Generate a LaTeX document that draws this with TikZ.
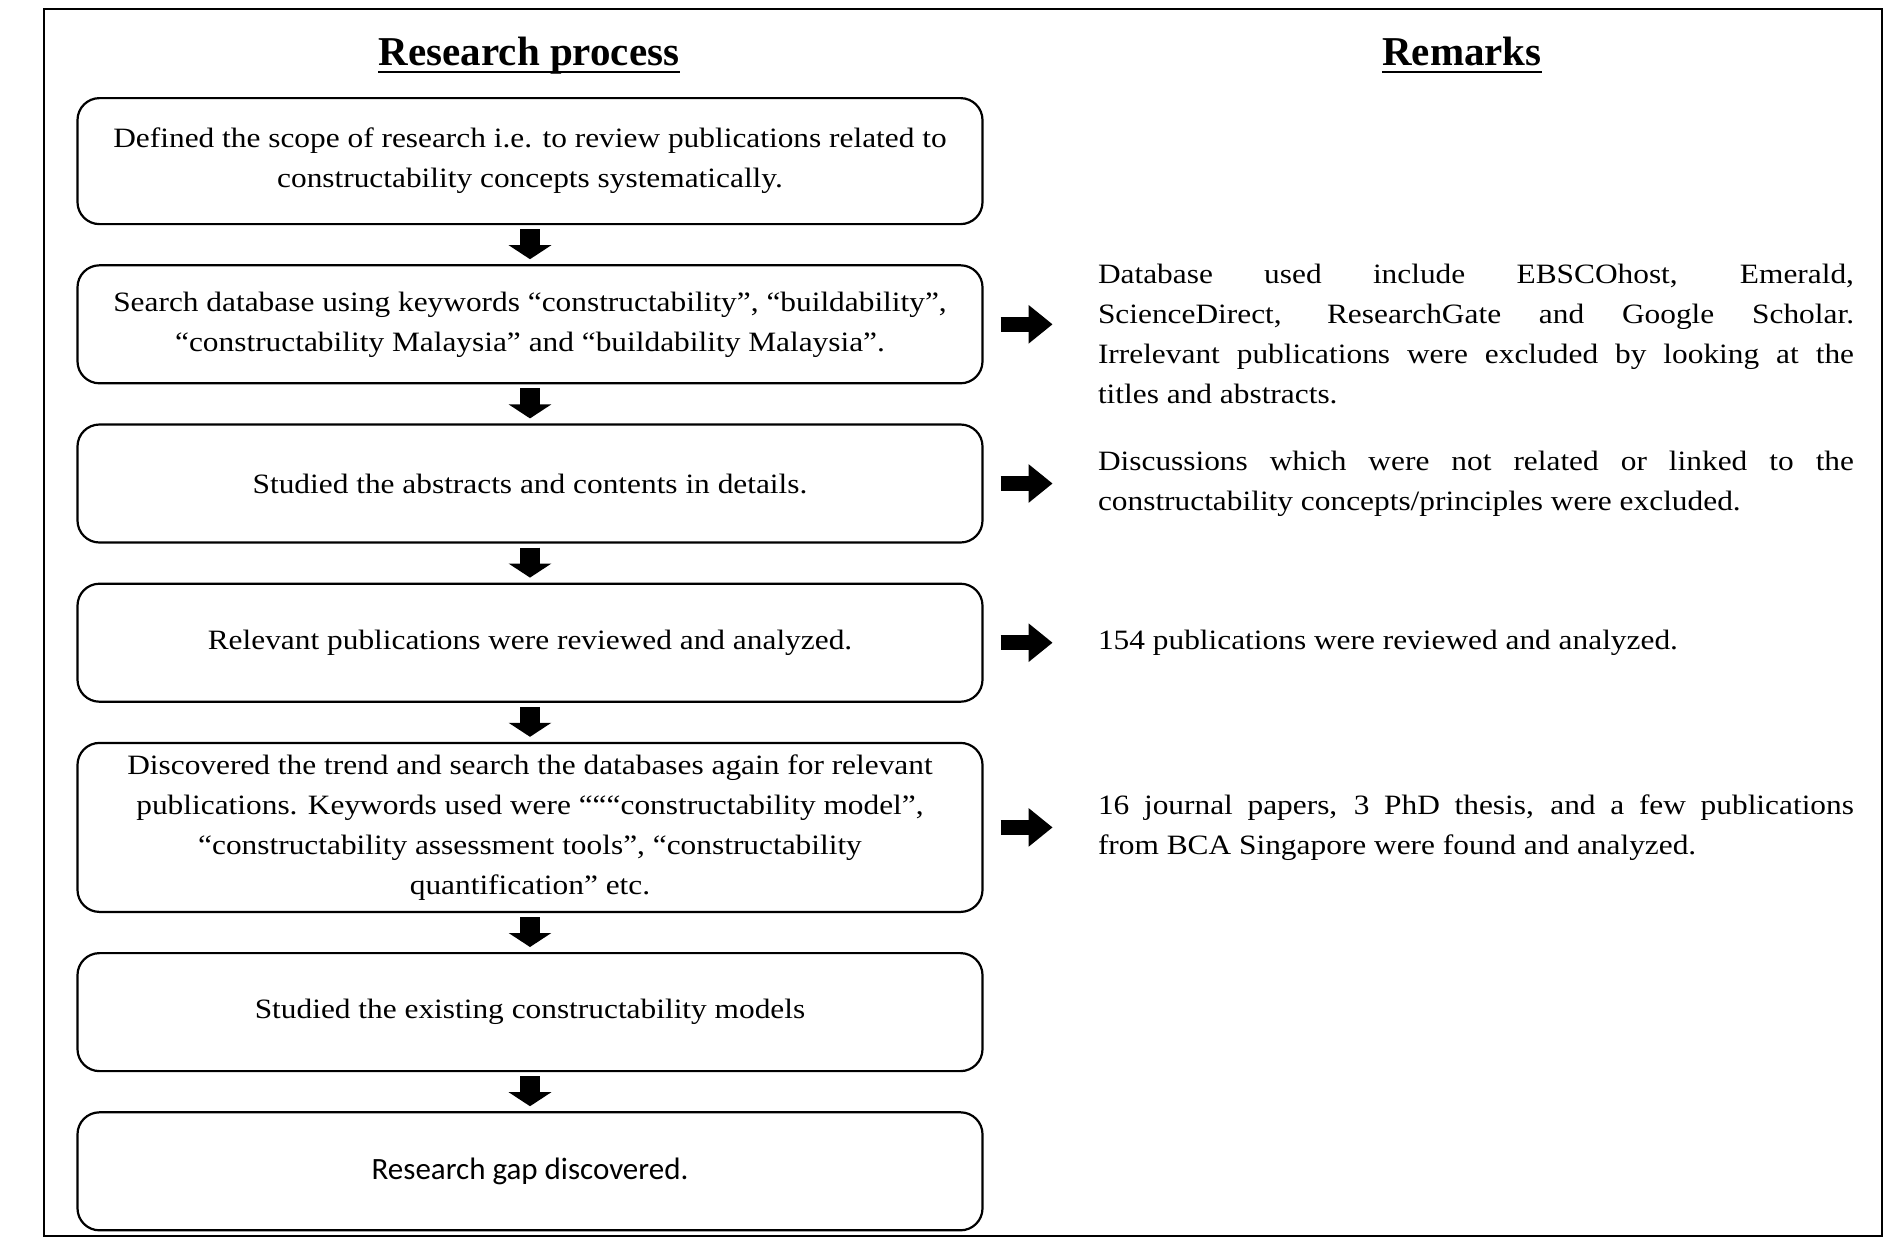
\documentclass[tikz,border=0pt]{standalone}
\usepackage{fontspec}
\setmainfont{Liberation Serif}
\newfontfamily\bodyfont{Liberation Serif}[FakeStretch=1.12]
\newfontfamily\gapfont{Carlito}
\usetikzlibrary{positioning,arrows.meta}

\begin{document}
\begin{tikzpicture}[node distance=19.5pt,
    main node/.style={draw,line width=1.1pt,rounded corners=11pt,minimum width=452.5pt,
      minimum height=59pt,align=center,inner sep=0pt,font=\bodyfont\fontsize{14}{20}\selectfont},
    remark node/.style={text width=378pt,align=justify,inner sep=0pt,font=\bodyfont\fontsize{14}{20}\selectfont},
    title node/.style={anchor=base,inner sep=0pt,font=\fontsize{20.5}{24}\selectfont\bfseries},
    down arrow/.style={line width=10pt,-{Triangle[width=21pt,length=7pt]},shorten <=2pt,shorten >=2.5pt},
    side arrow/.style={line width=7.5pt,-{Triangle[width=18.5pt,length=12pt]},shorten <=8.5pt,shorten >=22.5pt}]

  \useasboundingbox (0,0) rectangle (944pt,-619pt);
  \draw[line width=1pt] (22pt,-4.5pt) rectangle (941pt,-618pt);

  % headings
  \node[title node] (t1) at (264.5pt,-32.5pt) {Research process};
  \node[title node] (t2) at (731pt,-32.5pt) {Remarks};
  \draw[line width=1.2pt] ([yshift=-3.5pt]t1.base west) -- ([yshift=-3.5pt]t1.base east);
  \draw[line width=1.2pt] ([yshift=-3.5pt]t2.base west) -- ([yshift=-3.5pt]t2.base east);

  % research process
  \node[main node,minimum height=63pt,anchor=north] (1) at (265pt,-48.5pt)
    {Defined the scope of research i.e. to review publications related to\\
     constructability concepts systematically.};
  \node[main node] (2) [below=of 1]
    {Search database using keywords “constructability”, “buildability”,\\
     “constructability Malaysia” and “buildability Malaysia”.};
  \node[main node] (3) [below=of 2] {Studied the abstracts and contents in details.};
  \node[main node] (4) [below=of 3] {Relevant publications were reviewed and analyzed.};
  \node[main node,minimum height=84.5pt] (5) [below=of 4]
    {Discovered the trend and search the databases again for relevant\\
     publications. Keywords used were “““constructability model”,\\
     “constructability assessment tools”, “constructability\\
     quantification” etc.};
  \node[main node] (6) [below=of 5] {Studied the existing constructability models};
  \node[main node,font=\gapfont\fontsize{15.5}{19}\selectfont] (7) [below=of 6] {Research gap discovered.};

  % remarks
  \node[remark node,yshift=-5pt] (r2) [right=57pt of 2]
    {Database used include EBSCOhost, Emerald,\linebreak
     ScienceDirect, ResearchGate and Google Scholar.\linebreak
     Irrelevant publications were excluded by looking at the\linebreak
     titles and abstracts.};
  \node[remark node] (r3) [right=57pt of 3]
    {Discussions which were not related or linked to the\linebreak
     constructability concepts/principles were excluded.};
  \node[remark node] (r4) [right=57pt of 4] {154 publications were reviewed and analyzed.};
  \node[remark node] (r5) [right=57pt of 5]
    {16 journal papers, 3 PhD thesis, and a few publications\linebreak
     from BCA Singapore were found and analyzed.};

  \path (1) edge[down arrow] (2)
        (2) edge[down arrow] (3)
        (3) edge[down arrow] (4)
        (4) edge[down arrow] (5)
        (5) edge[down arrow] (6)
        (6) edge[down arrow] (7);
  \path (2) edge[side arrow] (2 -| r2.west)
        (3) edge[side arrow] (r3)
        (4) edge[side arrow] (r4)
        (5) edge[side arrow] (r5);
\end{tikzpicture}
\end{document}
